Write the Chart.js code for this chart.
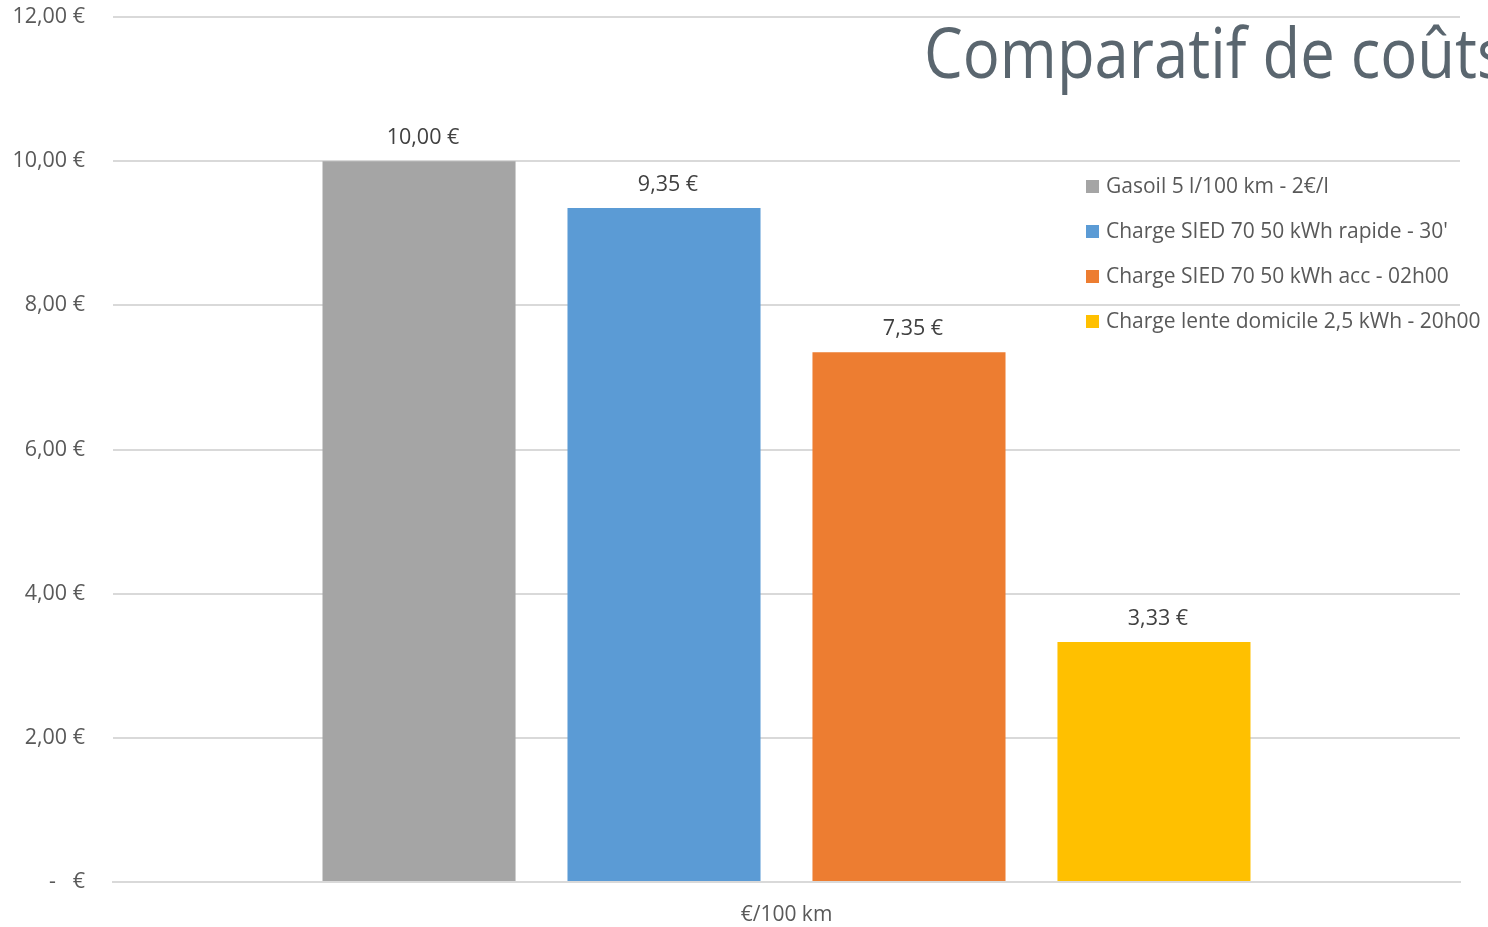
<!DOCTYPE html>
<html>
<head>
<meta charset="utf-8">
<script src="https://cdn.jsdelivr.net/npm/chart.js@4"></script>
<style>
  body { margin: 0; background: #fff; }
  #wrap { width: 1488px; height: 927px; }
</style>
</head>
<body>
<div id="wrap"><canvas id="graficoCouts" width="1488" height="927"></canvas></div>
<script>
// Données du graphique
const categories = ["€/100 km"];
const series = [
  "Gasoil 5 l/100 km - 2€/l",
  "Charge SIED 70 50 kWh rapide - 30'",
  "Charge SIED 70 50 kWh acc - 02h00",
  "Charge lente domicile 2,5 kWh - 20h00"
];
const valeurs = [10.00, 9.35, 7.35, 3.33];
const couleurs = ["#a5a5a5", "#5b9bd5", "#ed7d31", "#ffc000"];
const titre = "Comparatif de coûts";

const police = "'Open Sans', 'Noto Sans', sans-serif";
const gris = "#595959";

function formatEuro(v) {
  if (v === 0) return "-   €";
  return v.toFixed(2).replace(".", ",") + " €";
}

// étiquettes au-dessus des barres + titre + légende
const extras = {
  id: "extras",
  afterDatasetsDraw(chart) {
    const ctx = chart.ctx;
    ctx.save();
    ctx.font = "21.5px " + police;
    ctx.fillStyle = "#404040";
    ctx.textAlign = "center";
    ctx.textBaseline = "middle";
    chart.data.datasets.forEach((ds, i) => {
      const meta = chart.getDatasetMeta(i);
      meta.data.forEach((bar, j) => {
        ctx.fillText(formatEuro(ds.data[j]), bar.x + 4, bar.y - 23);
      });
    });

    // légende
    ctx.font = "21px " + police;
    ctx.textAlign = "left";
    chart.data.datasets.forEach((ds, i) => {
      const y = 187 + i * 45;
      ctx.fillStyle = ds.backgroundColor;
      ctx.fillRect(1086, y - 7, 13, 13);
      ctx.fillStyle = gris;
      ctx.fillText(ds.label, 1106, y);
    });

    // titre
    ctx.font = "70px " + police;
    ctx.fillStyle = "#5a666f";
    ctx.textBaseline = "alphabetic";
    ctx.translate(924, 78);
    ctx.scale(0.88, 1);
    ctx.fillText(titre, 0, 0);
    ctx.restore();
  }
};

new Chart(document.getElementById("graficoCouts").getContext("2d"), {
  type: "bar",
  data: {
    labels: categories,
    datasets: series.map((nom, i) => ({
      label: nom,
      data: [valeurs[i]],
      backgroundColor: couleurs[i],
      borderWidth: 0,
      categoryPercentage: 0.7275,
      barPercentage: 0.788
    }))
  },
  options: {
    responsive: false,
    animation: false,
    layout: { padding: { top: 17, right: 28, left: 0, bottom: 0 } },
    plugins: {
      legend: { display: false },
      tooltip: { enabled: false }
    },
    scales: {
      x: {
        grid: { display: false },
        border: { color: "#d9d9d9", width: 2 },
        ticks: { color: gris, font: { family: police, size: 21 }, padding: 12 },
        afterFit(axis) {
          axis.height = 45;
          axis.paddingLeft = 0;
          axis.paddingRight = 0;
        }
      },
      y: {
        min: 0,
        max: 12,
        ticks: {
          stepSize: 2,
          color: gris,
          font: { family: police, size: 21.5 },
          padding: 28,
          callback: v => formatEuro(v)
        },
        grid: { color: "#d9d9d9", lineWidth: 2, drawTicks: false },
        border: { display: false },
        afterFit(axis) {
          axis.width = 113;
          axis.paddingTop = 0;
          axis.paddingBottom = 0;
        }
      }
    }
  },
  plugins: [extras]
});
</script>
</body>
</html>
